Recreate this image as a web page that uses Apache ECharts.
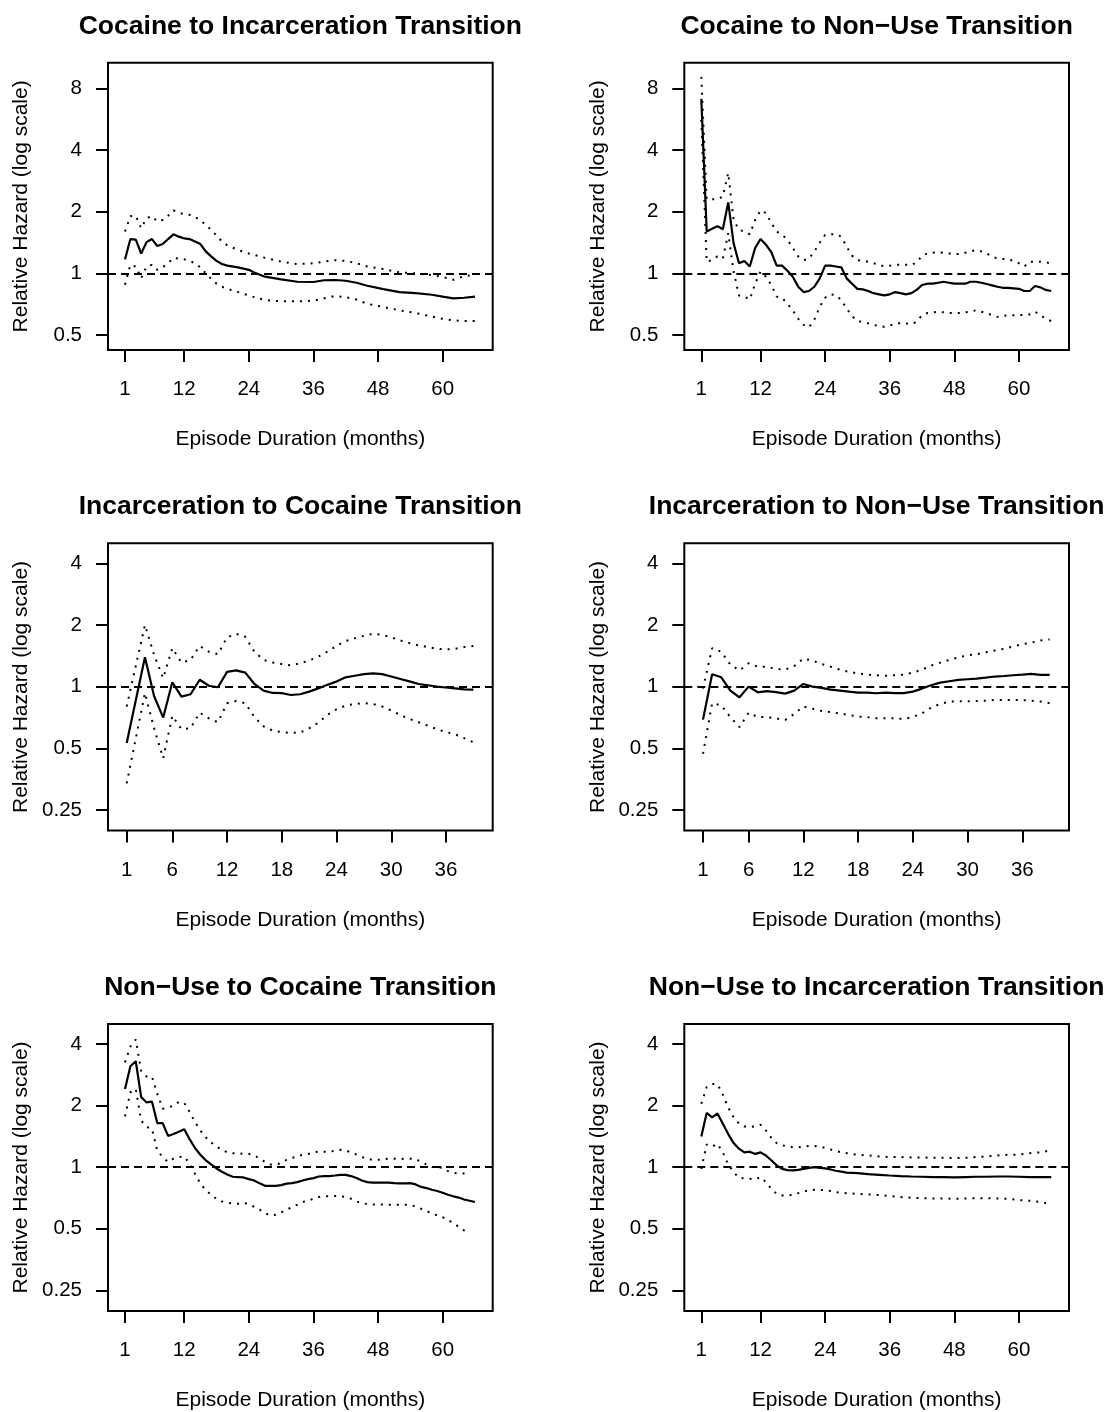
<!DOCTYPE html>
<html>
<head>
<meta charset="utf-8">
<title>Relative hazard by episode duration</title>
<script src="https://cdn.jsdelivr.net/npm/echarts@6/dist/echarts.min.js"></script>
<style>
  html, body { margin: 0; padding: 0; background: #fff; }
  #chart { width: 1107px; height: 1412px; }
</style>
</head>
<body>
<div id="chart"></div>
<script>
// ---- data (relative hazard, months) ----
const titles = [
    'Cocaine to Incarceration Transition',
    'Cocaine to Non\u2212Use Transition',
    'Incarceration to Cocaine Transition',
    'Incarceration to Non\u2212Use Transition',
    'Non\u2212Use to Cocaine Transition',
    'Non\u2212Use to Incarceration Transition'
];

const xTicksLong = [1, 12, 24, 36, 48, 60];
const xTicksShort = [1, 6, 12, 18, 24, 30, 36];
const yTicksWide = [0.5, 1, 2, 4, 8];
const yTicksNarrow = [0.25, 0.5, 1, 2, 4];

// cocaine -> incarceration
const months1 = [1, 2, 3, 4, 5, 6, 7, 8, 9, 10, 11, 12, 13, 14, 15, 16, 17, 18, 19, 20,
    22, 24, 25, 27, 30, 33, 36, 38, 40, 42, 44, 46, 49, 52, 55, 58, 60, 62, 64, 66];
const est1 = [1.17, 1.47, 1.46, 1.25, 1.42, 1.47, 1.36, 1.39, 1.47, 1.55,
    1.51, 1.48, 1.47, 1.43, 1.39, 1.28, 1.21, 1.15, 1.11, 1.09,
    1.07, 1.04, 1.01, 0.963, 0.934, 0.91, 0.907, 0.925, 0.928, 0.92,
    0.90, 0.87, 0.838, 0.81, 0.80, 0.786, 0.77, 0.755, 0.76, 0.77];
const upper1 = [1.60, 1.90, 1.91, 1.66, 1.86, 1.90, 1.79, 1.82, 1.91, 2.03,
    1.97, 1.95, 1.93, 1.88, 1.82, 1.72, 1.63, 1.53, 1.43, 1.37,
    1.30, 1.25, 1.23, 1.19, 1.14, 1.11, 1.12, 1.14, 1.16, 1.15,
    1.12, 1.08, 1.05, 1.01, 1.0, 0.98, 0.96, 0.93, 0.97, 0.98];
const lower1 = [0.88, 1.10, 1.08, 0.945, 1.08, 1.10, 1.04, 1.07, 1.12, 1.19,
    1.18, 1.17, 1.15, 1.12, 1.07, 1.0, 0.94, 0.89, 0.86, 0.84,
    0.81, 0.78, 0.765, 0.74, 0.73, 0.73, 0.735, 0.755, 0.775, 0.765,
    0.745, 0.71, 0.685, 0.66, 0.64, 0.615, 0.60, 0.59, 0.585, 0.585];

// cocaine -> non-use
const months2 = Array.from({ length: 66 }, (_, i) => i + 1);
const est2 = [7.1, 1.6, 1.65, 1.70, 1.64, 2.22, 1.40, 1.12, 1.15, 1.08,
    1.33, 1.47, 1.38, 1.27, 1.09, 1.09, 1.03, 0.963, 0.86, 0.81,
    0.82, 0.86, 0.945, 1.09, 1.09, 1.08, 1.07, 0.945, 0.89, 0.84,
    0.835, 0.82, 0.80, 0.79, 0.78, 0.79, 0.81, 0.80, 0.79, 0.80,
    0.83, 0.877, 0.89, 0.89, 0.90, 0.91, 0.90, 0.89, 0.89, 0.89,
    0.91, 0.91, 0.90, 0.887, 0.874, 0.86, 0.85, 0.85, 0.845, 0.84,
    0.82, 0.82, 0.867, 0.854, 0.83, 0.82];
const upper2 = [9.1, 2.3, 2.3, 2.3, 2.37, 3.09, 1.82, 1.63, 1.6, 1.55,
    1.82, 2.03, 1.97, 1.76, 1.6, 1.54, 1.46, 1.33, 1.21, 1.16,
    1.18, 1.28, 1.41, 1.54, 1.55, 1.55, 1.51, 1.35, 1.22, 1.16,
    1.15, 1.14, 1.12, 1.1, 1.08, 1.09, 1.1, 1.1, 1.1, 1.1,
    1.13, 1.22, 1.25, 1.26, 1.27, 1.26, 1.25, 1.245, 1.24, 1.26,
    1.28, 1.30, 1.28, 1.25, 1.21, 1.18, 1.175, 1.17, 1.15, 1.12,
    1.08, 1.14, 1.14, 1.14, 1.13, 1.12];
const lower2 = [5.6, 1.14, 1.16, 1.21, 1.18, 1.57, 1.02, 0.78, 0.77, 0.746,
    0.89, 1.02, 0.963, 0.877, 0.77, 0.76, 0.71, 0.66, 0.60, 0.56,
    0.545, 0.595, 0.687, 0.76, 0.79, 0.783, 0.74, 0.674, 0.618, 0.586,
    0.578, 0.57, 0.56, 0.553, 0.548, 0.558, 0.565, 0.573, 0.57, 0.565,
    0.58, 0.625, 0.64, 0.645, 0.65, 0.645, 0.64, 0.64, 0.64, 0.645,
    0.65, 0.66, 0.65, 0.64, 0.625, 0.613, 0.62, 0.625, 0.625, 0.625,
    0.627, 0.63, 0.65, 0.625, 0.60, 0.585];

// incarceration -> cocaine
const months3 = [1, 3, 4, 5, 6, 7, 8, 9, 10, 11, 12, 13, 14, 15, 16, 17, 18, 19, 20,
    21, 22, 23, 24, 25, 26, 27, 28, 29, 30, 31, 32, 33, 34, 35, 36, 37, 38, 39];
const est3 = [0.53, 1.39, 0.90, 0.706, 1.05, 0.894, 0.918, 1.08, 1.01, 0.993,
    1.18, 1.2, 1.17, 1.03, 0.956, 0.931, 0.93, 0.91, 0.918, 0.945,
    0.98, 1.02, 1.06, 1.11, 1.13, 1.15, 1.16, 1.15, 1.12, 1.09,
    1.06, 1.03, 1.015, 1.0, 0.99, 0.98, 0.97, 0.967];
const upper3 = [0.80, 2.0, 1.43, 1.1, 1.54, 1.31, 1.35, 1.58, 1.48, 1.44,
    1.74, 1.81, 1.75, 1.48, 1.35, 1.31, 1.29, 1.27, 1.3, 1.34,
    1.4, 1.48, 1.58, 1.67, 1.72, 1.77, 1.81, 1.79, 1.74, 1.68,
    1.63, 1.59, 1.56, 1.53, 1.52, 1.53, 1.56, 1.58];
const lower3 = [0.337, 0.93, 0.626, 0.447, 0.72, 0.62, 0.626, 0.746, 0.70, 0.67,
    0.83, 0.85, 0.83, 0.71, 0.64, 0.61, 0.60, 0.594, 0.596, 0.626,
    0.667, 0.727, 0.775, 0.808, 0.823, 0.83, 0.823, 0.80, 0.764, 0.727,
    0.695, 0.67, 0.645, 0.62, 0.60, 0.585, 0.56, 0.535];

// incarceration -> non-use
const months4 = Array.from({ length: 39 }, (_, i) => i + 1);
const est4 = [0.69, 1.15, 1.11, 0.956, 0.887, 1.0, 0.938, 0.95, 0.94, 0.924,
    0.956, 1.03, 1.0, 0.985, 0.967, 0.956, 0.945, 0.935, 0.935, 0.928,
    0.935, 0.93, 0.93, 0.945, 0.978, 1.015, 1.046, 1.062, 1.078, 1.086,
    1.094, 1.106, 1.12, 1.127, 1.136, 1.144, 1.153, 1.14, 1.14];
const upper4 = [0.98, 1.54, 1.48, 1.28, 1.2, 1.3, 1.25, 1.25, 1.22, 1.21,
    1.26, 1.37, 1.34, 1.29, 1.25, 1.21, 1.18, 1.16, 1.144, 1.136,
    1.13, 1.136, 1.144, 1.17, 1.21, 1.266, 1.31, 1.35, 1.39, 1.42,
    1.44, 1.47, 1.5, 1.53, 1.57, 1.61, 1.64, 1.68, 1.70];
const lower4 = [0.47, 0.83, 0.81, 0.71, 0.634, 0.746, 0.71, 0.71, 0.70, 0.687,
    0.735, 0.80, 0.78, 0.76, 0.75, 0.74, 0.727, 0.714, 0.71, 0.70,
    0.70, 0.70, 0.695, 0.71, 0.74, 0.79, 0.823, 0.845, 0.848, 0.848,
    0.85, 0.854, 0.86, 0.86, 0.86, 0.86, 0.854, 0.845, 0.83];

// non-use -> cocaine
const months5 = Array.from({ length: 66 }, (_, i) => i + 1);
const est5 = [2.41, 3.11, 3.29, 2.2, 2.07, 2.09, 1.64, 1.64, 1.42, 1.45,
    1.49, 1.53, 1.37, 1.24, 1.15, 1.08, 1.03, 0.985, 0.949, 0.92,
    0.897, 0.894, 0.89, 0.874, 0.86, 0.833, 0.81, 0.81, 0.81, 0.817,
    0.83, 0.835, 0.845, 0.86, 0.874, 0.884, 0.90, 0.904, 0.904, 0.91,
    0.917, 0.917, 0.904, 0.884, 0.86, 0.845, 0.84, 0.84, 0.84, 0.84,
    0.835, 0.833, 0.833, 0.835, 0.823, 0.80, 0.79, 0.775, 0.764, 0.75,
    0.733, 0.72, 0.71, 0.695, 0.685, 0.675];
const upper5 = [3.25, 3.88, 4.2, 2.95, 2.77, 2.77, 2.28, 1.93, 1.95, 2.0,
    2.08, 2.06, 1.86, 1.66, 1.51, 1.40, 1.32, 1.26, 1.215, 1.18,
    1.17, 1.17, 1.16, 1.16, 1.14, 1.1, 1.06, 1.03, 1.03, 1.046,
    1.085, 1.11, 1.127, 1.15, 1.16, 1.18, 1.19, 1.19, 1.19, 1.2,
    1.215, 1.206, 1.18, 1.15, 1.12, 1.1, 1.085, 1.085, 1.094, 1.1,
    1.1, 1.094, 1.1, 1.1, 1.094, 1.06, 1.03, 1.0, 1.0, 0.99,
    0.956, 0.938, 0.93, 0.93, 0.92];
const lower5 = [1.77, 2.32, 2.41, 1.69, 1.57, 1.54, 1.2, 1.12, 1.06, 1.1,
    1.12, 1.127, 1.04, 0.928, 0.83, 0.77, 0.733, 0.70, 0.68, 0.67,
    0.665, 0.662, 0.667, 0.662, 0.64, 0.62, 0.596, 0.58, 0.585, 0.60,
    0.62, 0.636, 0.655, 0.675, 0.687, 0.70, 0.714, 0.72, 0.72, 0.722,
    0.722, 0.714, 0.70, 0.68, 0.667, 0.66, 0.657, 0.657, 0.657, 0.655,
    0.655, 0.655, 0.655, 0.652, 0.643, 0.626, 0.61, 0.596, 0.58, 0.57,
    0.55, 0.534, 0.51, 0.49, 0.473];

// non-use -> incarceration
const months6 = [1, 2, 3, 4, 5, 6, 7, 8, 9, 10, 11, 12, 13, 14, 15, 16, 17, 18, 19, 20,
    21, 22, 23, 24, 25, 26, 27, 28, 29, 30, 32, 34, 36, 38, 40, 42, 44, 46, 48, 50,
    52, 54, 56, 58, 60, 62, 64, 66];
const est6 = [1.41, 1.84, 1.75, 1.83, 1.63, 1.45, 1.31, 1.23, 1.18, 1.19,
    1.16, 1.18, 1.14, 1.08, 1.02, 0.98, 0.967, 0.963, 0.97, 0.98,
    0.992, 1.0, 0.992, 0.985, 0.974, 0.96, 0.95, 0.94, 0.938, 0.935,
    0.924, 0.917, 0.91, 0.904, 0.9, 0.897, 0.894, 0.894, 0.89, 0.894,
    0.897, 0.897, 0.9, 0.9, 0.897, 0.894, 0.894, 0.894];
const upper6 = [2.04, 2.46, 2.55, 2.54, 2.26, 1.95, 1.75, 1.63, 1.58, 1.57,
    1.58, 1.61, 1.51, 1.39, 1.31, 1.28, 1.26, 1.25, 1.25, 1.26,
    1.27, 1.27, 1.26, 1.24, 1.22, 1.2, 1.18, 1.17, 1.16, 1.15,
    1.14, 1.127, 1.12, 1.12, 1.115, 1.115, 1.11, 1.11, 1.106, 1.11,
    1.12, 1.127, 1.14, 1.15, 1.15, 1.17, 1.18, 1.21];
const lower6 = [0.98, 1.29, 1.26, 1.3, 1.18, 1.03, 0.945, 0.887, 0.88, 0.877,
    0.87, 0.894, 0.845, 0.784, 0.74, 0.727, 0.727, 0.733, 0.746, 0.76,
    0.77, 0.775, 0.775, 0.77, 0.764, 0.755, 0.75, 0.746, 0.743, 0.74,
    0.735, 0.73, 0.722, 0.714, 0.708, 0.705, 0.703, 0.703, 0.70, 0.703,
    0.705, 0.705, 0.703, 0.70, 0.69, 0.685, 0.675, 0.66];

// ---- layout (R mfrow 3x2 look) ----
const FONT = '"Liberation Sans", Arial, Helvetica, sans-serif';
const colLeft = [108, 684.3];
const rowTop = [62.7, 543.3, 1023.9];
const boxW = 384.7;
const boxH = 287.3;
const xRangeLong = [-2.16, 69.3];
const xRangeShort = [-1.05, 41.12];
const yRangeWide = [-1.243, 3.415];   // log2 units
const yRangeNarrow = [-2.335, 2.324];

const panels = [
    { m: months1, est: est1, up: upper1, lo: lower1, xt: xTicksLong, xr: xRangeLong, yt: yTicksWide, yr: yRangeWide },
    { m: months2, est: est2, up: upper2, lo: lower2, xt: xTicksLong, xr: xRangeLong, yt: yTicksWide, yr: yRangeWide },
    { m: months3, est: est3, up: upper3, lo: lower3, xt: xTicksShort, xr: xRangeShort, yt: yTicksNarrow, yr: yRangeNarrow },
    { m: months4, est: est4, up: upper4, lo: lower4, xt: xTicksShort, xr: xRangeShort, yt: yTicksNarrow, yr: yRangeNarrow },
    { m: months5, est: est5, up: upper5, lo: lower5, xt: xTicksLong, xr: xRangeLong, yt: yTicksNarrow, yr: yRangeNarrow },
    { m: months6, est: est6, up: upper6, lo: lower6, xt: xTicksLong, xr: xRangeLong, yt: yTicksNarrow, yr: yRangeNarrow }
];

function toPoints(months, vals) {
    let pts = [];
    for (let k = 0; k < vals.length && k < months.length; k++) {
        pts.push([months[k], Math.log2(vals[k])]);
    }
    return pts;
}

let grids = [], xAxes = [], yAxes = [], series = [], titleList = [];

panels.forEach((p, i) => {
    let left = colLeft[i % 2];
    let top = rowTop[Math.floor(i / 2)];

    grids.push({
        left: left, top: top, width: boxW, height: boxH,
        show: true, borderColor: '#000', borderWidth: 2, backgroundColor: 'transparent'
    });

    titleList.push({
        text: titles[i],
        left: left + boxW / 2,
        top: top - 50,
        textAlign: 'center',
        padding: 0,
        textStyle: { fontFamily: FONT, fontSize: 26.5, fontWeight: 'bold', color: '#000' }
    });

    xAxes.push({
        gridIndex: i,
        type: 'value',
        min: p.xr[0],
        max: p.xr[1],
        axisLine: { show: false, onZero: false },
        splitLine: { show: false },
        axisTick: { show: true, length: 12, customValues: p.xt, lineStyle: { color: '#000', width: 2 } },
        axisLabel: { customValues: p.xt, margin: 29, fontSize: 20.5, color: '#000', fontFamily: FONT },
        name: 'Episode Duration (months)',
        nameLocation: 'middle',
        nameGap: 79,
        nameTextStyle: { fontSize: 21, color: '#000', fontFamily: FONT }
    });

    let yVals = p.yt.map(v => Math.log2(v));
    yAxes.push({
        gridIndex: i,
        type: 'value',
        min: p.yr[0],
        max: p.yr[1],
        axisLine: { show: false, onZero: false },
        splitLine: { show: false },
        axisTick: { show: true, length: 12, customValues: yVals, lineStyle: { color: '#000', width: 2 } },
        axisLabel: {
            customValues: yVals,
            margin: 26,
            fontSize: 20.5,
            color: '#000',
            fontFamily: FONT,
            formatter: v => String(+Math.pow(2, v).toFixed(2))
        },
        name: 'Relative Hazard (log scale)',
        nameLocation: 'middle',
        nameGap: 76,
        nameTextStyle: { fontSize: 21, color: '#000', fontFamily: FONT }
    });

    series.push({
        type: 'line',
        xAxisIndex: i, yAxisIndex: i,
        data: toPoints(p.m, p.est),
        symbol: 'none',
        silent: true,
        lineStyle: { color: '#000', width: 2.2 },
        markLine: {
            silent: true,
            symbol: ['none', 'none'],
            label: { show: false },
            lineStyle: { color: '#000', width: 1.8, type: [8, 5] },
            data: [{ yAxis: 0 }]
        }
    });
    [p.up, p.lo].forEach(band => {
        series.push({
            type: 'line',
            xAxisIndex: i, yAxisIndex: i,
            data: toPoints(p.m, band),
            symbol: 'none',
            silent: true,
            lineStyle: { color: '#000', width: 2, type: [2, 6] }
        });
    });
});

let chart = echarts.init(document.getElementById('chart'), null, { renderer: 'canvas' });
chart.setOption({
    animation: false,
    backgroundColor: '#fff',
    textStyle: { fontFamily: FONT },
    title: titleList,
    grid: grids,
    xAxis: xAxes,
    yAxis: yAxes,
    series: series
});
</script>
</body>
</html>
